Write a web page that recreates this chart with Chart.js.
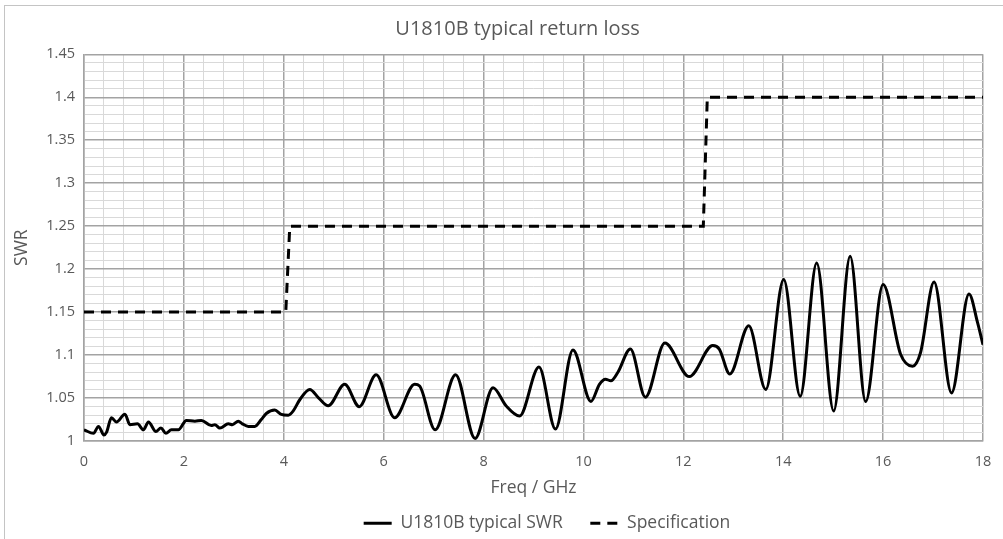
<!DOCTYPE html>
<html>
<head>
<meta charset="utf-8">
<title>U1810B typical return loss</title>
<script src="https://cdn.jsdelivr.net/npm/chart.js@4.4.1/dist/chart.umd.min.js"></script>
<style>
  html, body { margin: 0; padding: 0; background: #fff; overflow: hidden; }
  body { width: 1003px; height: 539px; position: relative; }
  #frame { position: absolute; left: 4px; top: 5px; width: 1040px; height: 600px; border: 1px solid #c4c4c4; }
  #swrChart { position: absolute; left: 4px; top: 5px; }
</style>
</head>
<body>
<div id="frame"></div>
<canvas id="swrChart" width="1027" height="537"></canvas>
<script>
// measured SWR (GHz, SWR)
const freq = [
  0, 0.19, 0.29, 0.40, 0.45, 0.55, 0.65, 0.82, 0.92, 1.07, 1.19, 1.29, 1.44, 1.54, 1.64, 1.75, 1.89,
  2.05, 2.22, 2.35, 2.55, 2.62, 2.72, 2.89, 2.97, 3.09, 3.17, 3.29, 3.42, 3.55, 3.65, 3.82, 3.95,
  4.09, 4.19, 4.32, 4.52, 4.70, 4.89, 5.22, 5.51, 5.85, 6.22, 6.62, 6.72, 7.03, 7.44, 7.83, 8.19,
  8.45, 8.72, 9.11, 9.44, 9.79, 10.15, 10.32, 10.44, 10.55, 10.69, 10.94, 11.24, 11.63, 12.12,
  12.59, 12.72, 12.93, 13.31, 13.65, 14.01, 14.34, 14.67, 15.01, 15.34, 15.65, 16.00, 16.35,
  16.59, 16.75, 17.02, 17.37, 17.72, 17.89, 18.0
];
const swr = [
  1.013, 1.009, 1.017, 1.007, 1.010, 1.027, 1.022, 1.031, 1.019, 1.020, 1.013, 1.022, 1.011, 1.015, 1.009, 1.013, 1.013,
  1.024, 1.023, 1.024, 1.018, 1.019, 1.015, 1.020, 1.019, 1.023, 1.020, 1.017, 1.017, 1.025, 1.032, 1.036, 1.031,
  1.030, 1.035, 1.048, 1.060, 1.050, 1.041, 1.066, 1.040, 1.077, 1.027, 1.066, 1.064, 1.013, 1.077, 1.003, 1.062,
  1.041, 1.029, 1.086, 1.014, 1.106, 1.046, 1.066, 1.072, 1.070, 1.080, 1.107, 1.051, 1.114, 1.075,
  1.111, 1.107, 1.078, 1.134, 1.060, 1.188, 1.052, 1.207, 1.035, 1.215, 1.046, 1.182, 1.101,
  1.087, 1.103, 1.185, 1.056, 1.171, 1.138, 1.112
];

// specification limit
const specFreq = [0, 4.04, 4.12, 12.40, 12.48, 18];
const specSwr = [1.15, 1.15, 1.25, 1.25, 1.40, 1.40];

const xMin = 0, xMax = 18, xStep = 0.4, xMajor = 2;
const yMin = 1, yMax = 1.45, yStep = 0.01, yMajor = 0.05;

function isMajor(v, step) {
  const r = v / step;
  return Math.abs(r - Math.round(r)) < 1e-6;
}

Chart.defaults.font.family = "'Open Sans'";
Chart.defaults.color = "#595959";

const majorGrid = "#a3a3a3";
const minorGrid = "#d9d9d9";
const textColor = "#595959";

// title is centred on the whole frame, legend sits a bit right of the plot centre
const placeBlocks = {
  id: "placeBlocks",
  afterLayout(chart) {
    chart.titleBlock.left = 0;
    chart.titleBlock.right = chart.width;
    chart.legend.left = 543 - 400;
    chart.legend.right = 543 + 400;
  },
};

new Chart(document.getElementById("swrChart"), {
  type: "line",
  data: {
    datasets: [
      {
        label: "U1810B typical SWR",
        data: freq.map((f, i) => ({ x: f, y: swr[i] })),
        borderColor: "#000",
        borderWidth: 3,
        pointRadius: 0,
        cubicInterpolationMode: "monotone",
        fill: false,
      },
      {
        label: "Specification",
        data: specFreq.map((f, i) => ({ x: f, y: specSwr[i] })),
        borderColor: "#000",
        borderWidth: 3,
        borderDash: [10, 7],
        pointRadius: 0,
        tension: 0,
        fill: false,
      },
    ],
  },
  options: {
    responsive: false,
    animation: false,
    layout: { padding: { left: 0, right: 48, top: 0, bottom: 0 } },
    plugins: {
      title: {
        display: true,
        text: "U1810B typical return loss",
        font: { size: 20, weight: "normal" },
        color: textColor,
        padding: { top: 12, bottom: 13.3 },
      },
      legend: {
        position: "bottom",
        fullSize: false,
        labels: {
          usePointStyle: true,
          pointStyle: "line",
          pointStyleWidth: 28,
          font: { size: 17.5 },
          color: textColor,
          padding: 10,
          generateLabels: (chart) =>
            Chart.defaults.plugins.legend.labels.generateLabels(chart).map((item) => {
              const ds = chart.data.datasets[item.datasetIndex];
              item.lineDash = ds.borderDash || [];
              item.lineWidth = ds.borderWidth;
              if (item.datasetIndex === 0) item.text += "\u2003";
              return item;
            }),
        },
      },
      tooltip: { enabled: false },
    },
    scales: {
      x: {
        type: "linear",
        min: xMin,
        max: xMax,
        afterFit: (s) => { s.height = 63.5; },
        grid: {
          drawTicks: false,
          color: (c) => (isMajor(c.tick.value, xMajor) ? majorGrid : minorGrid),
          lineWidth: (c) => (isMajor(c.tick.value, xMajor) ? 1.5 : 1),
        },
        border: { color: majorGrid, width: 1.5 },
        ticks: {
          stepSize: xStep,
          autoSkip: false,
          maxRotation: 0,
          padding: 12.3,
          font: { size: 14.5 },
          color: textColor,
          callback: (v) => (isMajor(v, xMajor) ? String(Math.round(v)) : ""),
        },
        title: {
          display: true,
          text: "Freq / GHz",
          font: { size: 17.5 },
          color: textColor,
          padding: { top: 0, bottom: 5.5 },
        },
      },
      y: {
        min: yMin,
        max: yMax,
        afterFit: (s) => { s.width = 80; },
        grid: {
          drawTicks: false,
          color: (c) => (isMajor(c.tick.value, yMajor) ? majorGrid : minorGrid),
          lineWidth: (c) => (isMajor(c.tick.value, yMajor) ? 1.5 : 1),
        },
        border: { color: majorGrid, width: 1.5 },
        ticks: {
          stepSize: yStep,
          autoSkip: false,
          padding: 9,
          font: { size: 14.5 },
          color: textColor,
          callback: (v) => (isMajor(v, yMajor) ? String(Number(v.toFixed(2))) : ""),
        },
        title: {
          display: true,
          text: "SWR",
          font: { size: 17.5 },
          color: textColor,
          padding: { top: 7.5, bottom: 0 },
        },
      },
    },
  },
  plugins: [placeBlocks],
});
</script>
</body>
</html>
